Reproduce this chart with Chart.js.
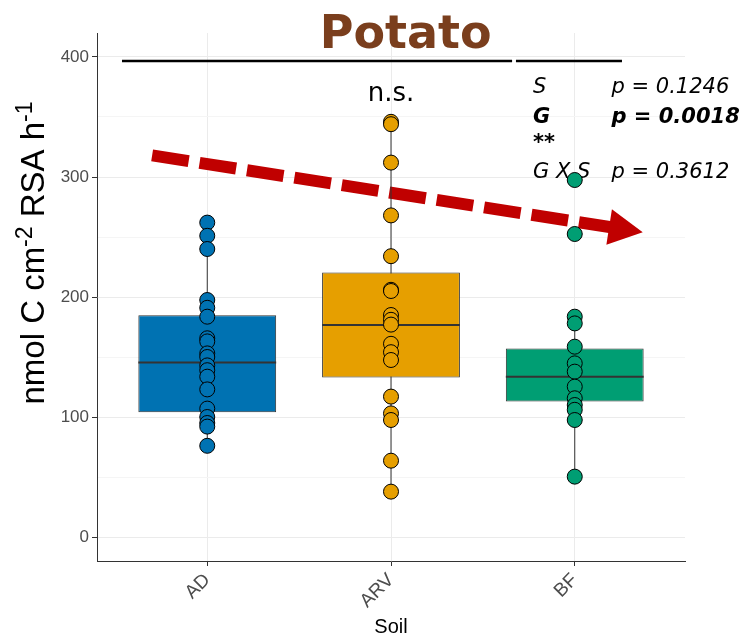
<!DOCTYPE html>
<html lang="en">
<head>
<meta charset="UTF-8">
<title>Potato</title>
<script src="https://cdn.jsdelivr.net/npm/chart.js@4"></script>
<style>
  body { margin: 0; background: #fff; }
  #wrap { width: 741px; height: 639px; }
</style>
</head>
<body>
<div id="wrap"><canvas id="myChart"></canvas></div>
<script>
// soils and their colours
const soils = ['AD', 'ARV', 'BF'];
const soilColours = ['#0072B2', '#E69F00', '#009E73'];

// box statistics
const lowerWhisker = [76, 38, 50];
const q1 = [104, 133, 113];
const medians = [145.5, 176.7, 133.6];
const q3 = [184.7, 220.5, 157];
const upperWhisker = [262, 346, 183.6];

// single measurements
const adPoints = [262, 251, 240, 197.5, 191, 183.6, 165.6, 163, 153, 150, 143, 139, 133.6, 123, 107, 100, 95, 92, 76];
const arvPoints = [346, 344, 312, 268, 234, 206, 205, 185, 181, 177, 161, 154, 147.5, 117, 103, 97.5, 63.6, 37.8];
const bfPoints = [297.5, 252.5, 183.6, 178, 158.6, 144.7, 137.8, 125.3, 115.6, 110, 106, 97.5, 50.3];

const yTicks = [0, 50, 100, 150, 200, 250, 300, 350, 400];

// stats text
const effectNames = ['S', 'G', 'G X S'];
const pValues = ['p = 0.1246', 'p = 0.0018', 'p = 0.3612'];

// trend arrow (soil position, value)
const trendStart = [0.7, 318];
const trendEnd = [3.37, 254];

const boxWidth = 0.75;

const pointSets = [adPoints, arvPoints, bfPoints];

const datasets = [];

// boxes as floating bars
datasets.push({
    type: 'bar',
    data: soils.map((s, i) => ({x: i + 1, y: [q1[i], q3[i]]})),
    backgroundColor: soilColours,
    borderColor: '#333333',
    borderWidth: 1,
    borderSkipped: false,
    barPercentage: boxWidth,
    categoryPercentage: 1,
    order: 2
});

soils.forEach((s, i) => {
    // whisker
    datasets.push({
        type: 'line',
        data: [{x: i + 1, y: lowerWhisker[i]}, {x: i + 1, y: upperWhisker[i]}],
        borderColor: '#333333',
        borderWidth: 1,
        pointRadius: 0,
        order: 3
    });
    // median
    datasets.push({
        type: 'line',
        data: [{x: i + 1 - boxWidth / 2, y: medians[i]}, {x: i + 1 + boxWidth / 2, y: medians[i]}],
        borderColor: '#333333',
        borderWidth: 2,
        pointRadius: 0,
        order: 1
    });
    // points
    datasets.push({
        type: 'scatter',
        data: pointSets[i].map(v => ({x: i + 1, y: v})),
        backgroundColor: soilColours[i],
        borderColor: '#000000',
        borderWidth: 1,
        pointRadius: 7.5,
        order: 0
    });
});

const annotations = {
    id: 'annotations',
    beforeDatasetsDraw(chart) {
        const ctx = chart.ctx;
        const x = chart.scales.x;
        const y = chart.scales.y;
        ctx.save();

        // title
        ctx.fillStyle = '#7A3E1D';
        ctx.font = 'bold 46px "DejaVu Sans"';
        ctx.textAlign = 'center';
        ctx.textBaseline = 'alphabetic';
        ctx.fillText('Potato', x.getPixelForValue(2.08), 48);

        // y axis title with superscripts
        ctx.save();
        ctx.translate(44, 253);
        ctx.rotate(-Math.PI / 2);
        ctx.fillStyle = '#000';
        const parts = [['nmol C cm', false], ['-2', true], [' RSA h', false], ['-1', true]];
        const big = '33px "Liberation Sans"', small = '23px "Liberation Sans"';
        let total = 0;
        parts.forEach(p => { ctx.font = p[1] ? small : big; total += ctx.measureText(p[0]).width; });
        let cx = -total / 2;
        ctx.textAlign = 'left';
        parts.forEach(p => {
            ctx.font = p[1] ? small : big;
            ctx.fillText(p[0], cx, p[1] ? -12 : 0);
            cx += ctx.measureText(p[0]).width;
        });
        ctx.restore();

        // bracket lines
        ctx.strokeStyle = '#000';
        ctx.lineWidth = 2.5;
        ctx.beginPath();
        ctx.moveTo(x.getPixelForValue(0.536), y.getPixelForValue(396.7));
        ctx.lineTo(x.getPixelForValue(2.659), y.getPixelForValue(396.7));
        ctx.moveTo(x.getPixelForValue(2.68), y.getPixelForValue(396.7));
        ctx.lineTo(x.getPixelForValue(3.257), y.getPixelForValue(396.7));
        ctx.stroke();

        // n.s.
        ctx.fillStyle = '#000';
        ctx.font = '26px "DejaVu Sans"';
        ctx.textAlign = 'center';
        ctx.fillText('n.s.', x.getPixelForValue(2), y.getPixelForValue(363));

        // p values
        ctx.textAlign = 'left';
        const baselines = [370, 345, 299];
        effectNames.forEach((e, i) => {
            ctx.font = (i === 1 ? 'italic bold ' : 'italic ') + '21px "DejaVu Sans"';
            ctx.fillText(e, x.getPixelForValue(2.773), y.getPixelForValue(baselines[i]));
            ctx.fillText(pValues[i], x.getPixelForValue(3.2), y.getPixelForValue(baselines[i]));
        });
        ctx.font = 'italic bold 21px "DejaVu Sans"';
        ctx.fillText('**', x.getPixelForValue(2.773), y.getPixelForValue(323));

        // dashed trend arrow
        const sx = x.getPixelForValue(trendStart[0]), sy = y.getPixelForValue(trendStart[1]);
        const ex = x.getPixelForValue(trendEnd[0]), ey = y.getPixelForValue(trendEnd[1]);
        const ang = Math.atan2(ey - sy, ex - sx);
        const headLen = 34, headHalf = 18;
        const bx = ex - headLen * Math.cos(ang), by = ey - headLen * Math.sin(ang);
        ctx.strokeStyle = '#C00000';
        ctx.fillStyle = '#C00000';
        ctx.lineWidth = 12;
        ctx.lineCap = 'butt';
        ctx.setLineDash([37, 11]);
        ctx.beginPath();
        ctx.moveTo(sx, sy);
        ctx.lineTo(bx + 2 * Math.cos(ang), by + 2 * Math.sin(ang));
        ctx.stroke();
        ctx.setLineDash([]);
        ctx.beginPath();
        ctx.moveTo(ex, ey);
        ctx.lineTo(bx - headHalf * Math.sin(ang), by + headHalf * Math.cos(ang));
        ctx.lineTo(bx + headHalf * Math.sin(ang), by - headHalf * Math.cos(ang));
        ctx.closePath();
        ctx.fill();

        ctx.restore();
    }
};

const ctx = document.getElementById('myChart').getContext('2d');
const myChart = new Chart(ctx, {
    type: 'bar',
    data: { datasets: datasets },
    options: {
        responsive: true,
        maintainAspectRatio: false,
        animation: false,
        layout: { padding: { top: 33, right: 56, left: 0, bottom: 0 } },
        plugins: { legend: { display: false }, tooltip: { enabled: false } },
        scales: {
            x: {
                type: 'linear',
                min: 0.4,
                max: 3.6,
                offset: false,
                afterBuildTicks: scale => { scale.ticks = soils.map((s, i) => ({value: i + 1})); },
                afterFit: scale => { scale.height = 78; },
                grid: { color: '#EBEBEB', tickColor: '#333333', tickLength: 5, offset: false },
                border: { display: true, color: '#333333', width: 1 },
                ticks: {
                    callback: v => soils[v - 1],
                    maxRotation: 45,
                    minRotation: 45,
                    color: '#4D4D4D',
                    font: { family: 'Liberation Sans', size: 19 }
                },
                title: {
                    display: true,
                    text: 'Soil',
                    color: '#000',
                    padding: 0,
                    font: { family: 'Liberation Sans', size: 20 }
                }
            },
            y: {
                min: -20,
                max: 420,
                afterBuildTicks: scale => { scale.ticks = yTicks.map(v => ({value: v})); },
                afterFit: scale => { scale.width = 97; },
                grid: {
                    color: c => (c.tick && c.tick.value % 100 === 0) ? '#EBEBEB' : '#F5F5F5',
                    tickColor: c => (c.tick && c.tick.value % 100 === 0) ? '#333333' : 'rgba(0,0,0,0)',
                    tickLength: 5
                },
                border: { display: true, color: '#333333', width: 1 },
                ticks: {
                    callback: v => v % 100 === 0 ? v : '',
                    color: '#4D4D4D',
                    padding: 3,
                    font: { family: 'Liberation Sans', size: 17 }
                }
            }
        }
    },
    plugins: [annotations]
});
</script>
</body>
</html>
